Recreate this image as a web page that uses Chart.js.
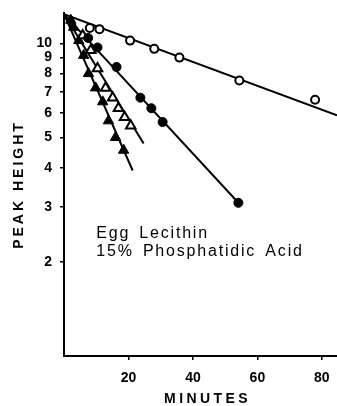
<!DOCTYPE html>
<html>
<head>
<meta charset="utf-8">
<script src="https://cdn.jsdelivr.net/npm/chart.js@4.4.0/dist/chart.umd.min.js"></script>
<style>
  html, body { margin: 0; padding: 0; background: #fff; }
  #wrap { width: 337px; height: 406px; position: relative; }
</style>
</head>
<body>
<div id="wrap"><canvas id="chart"></canvas></div>
<script>
// Values (minutes, peak height)
const openCircleMin = [8, 11, 20.5, 28, 35.8, 54.4, 77.9];
const openCircleVal = [11.2, 11.1, 10.2, 9.6, 9.0, 7.6, 6.6];
const filledCircleMin = [7.5, 10.4, 16.3, 23.7, 27.1, 30.6, 54.1];
const filledCircleVal = [10.4, 9.7, 8.4, 6.7, 6.2, 5.6, 3.09];
const openTriMin = [5.8, 8.3, 10.4, 12.9, 15.1, 16.9, 18.8, 20.7];
const openTriVal = [10.6, 9.5, 8.3, 7.2, 6.7, 6.2, 5.8, 5.45];
const filledTriMin = [2.1, 3.0, 4.6, 6.1, 7.6, 9.8, 12.0, 13.8, 16.0, 18.5];
const filledTriVal = [11.85, 11.25, 10.2, 9.15, 8.0, 7.2, 6.5, 5.65, 5.0, 4.55];

// Fitted lines: all start at the same point, order = open circle, filled circle, open tri, filled tri
const fitStartMin = 0;
const fitStartVal = 12.4;
const fitEndMin = [84.7, 54.1, 24.7, 21.3];
const fitEndVal = [5.88, 3.09, 4.78, 3.92];

const xTicks = [20, 40, 60, 80];
const yTicks = [2, 3, 4, 5, 6, 7, 8, 9, 10];

const noteLines = ['Egg Lecithin', '15% Phosphatidic Acid'];
const noteMin = 10;
const noteVal = [2.46, 2.15];

// Helpers
const pts = (xs, ys) => xs.map((x, i) => ({ x, y: ys[i] }));
const FONT = '"Liberation Sans", Arial, sans-serif';

function markers(label, xs, ys, style, filled, radius) {
    return {
        label,
        data: pts(xs, ys),
        pointStyle: style,
        pointRadius: radius,
        pointBackgroundColor: filled ? '#000' : '#fff',
        pointBorderColor: '#000',
        pointBorderWidth: filled ? 1 : 2,
        showLine: false,
        order: 0
    };
}

function fitLine(i) {
    return {
        label: 'fit' + i,
        data: [{ x: fitStartMin, y: fitStartVal }, { x: fitEndMin[i], y: fitEndVal[i] }],
        showLine: true,
        borderColor: '#000',
        borderWidth: 2,
        pointRadius: 0,
        fill: false,
        order: 1
    };
}

// Axis titles + note, drawn with letter spacing like the print
const textPlugin = {
    id: 'texts',
    afterDraw(chart) {
        const { ctx, chartArea, scales: { x, y } } = chart;
        ctx.save();
        ctx.fillStyle = '#000';
        ctx.textBaseline = 'middle';

        ctx.font = '16px ' + FONT;
        ctx.letterSpacing = '1.8px';
        ctx.wordSpacing = '3px';
        ctx.textAlign = 'left';
        noteLines.forEach((t, i) => ctx.fillText(t, x.getPixelForValue(noteMin), y.getPixelForValue(noteVal[i])));
        ctx.wordSpacing = '0px';

        ctx.font = 'bold 14px ' + FONT;
        ctx.letterSpacing = '3.4px';
        ctx.textAlign = 'center';
        ctx.fillText('MINUTES', (chartArea.left + chartArea.right) / 2 + 7, 399);

        ctx.translate(19, (chartArea.top + chartArea.bottom) / 2);
        ctx.rotate(-Math.PI / 2);
        ctx.letterSpacing = '3px';
        ctx.fillText('PEAK HEIGHT', 0, 0);
        ctx.restore();
    }
};

const axisStyle = {
    grid: { display: true, drawOnChartArea: false, drawTicks: true, tickLength: 4, color: '#000', lineWidth: 1.5 },
    border: { display: true, color: '#000', width: 2 }
};

new Chart(document.getElementById('chart'), {
    type: 'scatter',
    data: {
        datasets: [
            markers('open circles', openCircleMin, openCircleVal, 'circle', false, 4),
            markers('filled circles', filledCircleMin, filledCircleVal, 'circle', true, 4.5),
            markers('open triangles', openTriMin, openTriVal, 'triangle', false, 5.5),
            markers('filled triangles', filledTriMin, filledTriVal, 'triangle', true, 6),
            fitLine(0), fitLine(1), fitLine(2), fitLine(3)
        ]
    },
    options: {
        responsive: true,
        maintainAspectRatio: false,
        animation: false,
        layout: { autoPadding: false, padding: { top: 13, left: 0, right: 0, bottom: 0 } },
        plugins: { legend: { display: false }, tooltip: { enabled: false } },
        scales: {
            x: {
                type: 'linear',
                min: 0,
                max: 84.7,
                ...axisStyle,
                afterFit(s) { s.height = 50; s.paddingLeft = 0; s.paddingRight = 0; },
                afterBuildTicks(s) { s.ticks = xTicks.map(v => ({ value: v })); },
                ticks: { color: '#000', padding: 10, maxRotation: 0, autoSkip: false, font: { family: FONT, size: 14, weight: 'bold' } }
            },
            y: {
                type: 'logarithmic',
                min: 1,
                max: 12.5,
                ...axisStyle,
                afterFit(s) { s.width = 64; s.paddingTop = 0; s.paddingBottom = 0; },
                afterBuildTicks(s) { s.ticks = yTicks.map(v => ({ value: v })); },
                ticks: { color: '#000', padding: 8, autoSkip: false, callback: v => String(v), font: { family: FONT, size: 14, weight: 'bold' } }
            }
        }
    },
    plugins: [textPlugin]
});
</script>
</body>
</html>
